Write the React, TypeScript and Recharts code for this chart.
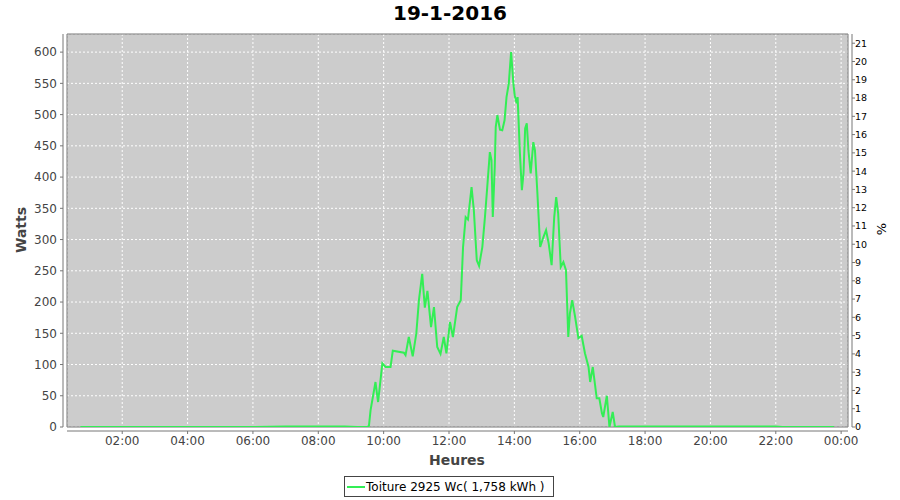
import {
  LineChart,
  Line,
  XAxis,
  YAxis,
  CartesianGrid,
  ReferenceArea,
} from 'recharts';

const HOURS = [
  0.72, 3.0, 6.0, 7.0, 8.0, 8.8, 9.2, 9.5, 9.55, 9.6, 9.75, 9.83, 9.96, 10.06,
  10.21, 10.28, 10.62, 10.67, 10.77, 10.89, 11.0, 11.08, 11.18, 11.26, 11.34,
  11.45, 11.54, 11.64, 11.74, 11.84, 11.92, 12.03, 12.12, 12.25, 12.36, 12.43,
  12.51, 12.58, 12.69, 12.76, 12.85, 12.92, 13.02, 13.1, 13.17, 13.25, 13.3,
  13.34, 13.4, 13.43, 13.48, 13.56, 13.63, 13.7, 13.76, 13.83, 13.9, 13.97,
  14.01, 14.07, 14.1, 14.17, 14.23, 14.28, 14.33, 14.38, 14.43, 14.5, 14.58,
  14.63, 14.7, 14.79, 14.89, 14.97, 15.05, 15.14, 15.22, 15.28, 15.34, 15.42,
  15.5, 15.58, 15.65, 15.7, 15.77, 15.86, 15.96, 16.06, 16.16, 16.27, 16.32,
  16.4, 16.47, 16.52, 16.6, 16.68, 16.72, 16.83, 16.91, 17.01, 17.08, 17.2,
  18.0, 20.0, 22.0, 22.2, 23.78,
];

const WATTS = [
  0, 0, 0, 1, 1, 1, 0, 0, 2, 27, 72, 40, 102, 96, 96, 122, 119, 115, 144, 113,
  150, 203, 245, 191, 218, 160, 192, 128, 117, 144, 118, 168, 144, 192, 203,
  288, 336, 332, 384, 347, 267, 258, 288, 336, 384, 440, 427, 336, 416, 480,
  499, 476, 475, 491, 528, 550, 600, 550, 531, 518, 528, 438, 379, 406, 478,
  486, 443, 406, 456, 443, 379, 288, 304, 315, 294, 259, 336, 368, 342, 256,
  264, 251, 144, 182, 203, 176, 142, 146, 118, 96, 72, 96, 67, 46, 46, 22, 16,
  50, 0, 24, 0, 1, 1, 1, 1, 0, 0,
];

const X_TICKS = [2, 4, 6, 8, 10, 12, 14, 16, 18, 20, 22, 24];
const W_TICKS = [0, 50, 100, 150, 200, 250, 300, 350, 400, 450, 500, 550, 600];
const PCT_TICKS = [
  0, 1, 2, 3, 4, 5, 6, 7, 8, 9, 10, 11, 12, 13, 14, 15, 16, 17, 18, 19, 20, 21,
];

const TITLE = '19-1-2016';
const SERIES_NAME = 'Toiture 2925 Wc( 1,758 kWh )';
const PEAK_WC = 2925;
const W_MAX = 629;
const X_MIN = 0.31;
const X_MAX = 24.21;

const FONT = '"DejaVu Sans", sans-serif';
const GREEN = '#33ee55';
const AXIS = '#777777';

const data = HOURS.map((h, i) => ({ h, w: WATTS[i] }));

const fmtHour = (v: number) => `${String(v % 24).padStart(2, '0')}:00`;

function Titles() {
  return (
    <g fontFamily={FONT}>
      <text x={450} y={20} textAnchor="middle" fontSize={20} fontWeight="bold" fill="#000">
        {TITLE}
      </text>
      <text
        x={26}
        y={230}
        transform="rotate(-90 26 230)"
        textAnchor="middle"
        fontSize={14}
        fontWeight="bold"
        fill="#444"
      >
        Watts
      </text>
      <text x={457} y={465} textAnchor="middle" fontSize={14} fontWeight="bold" fill="#444">
        Heures
      </text>
      <text
        x={886}
        y={229}
        transform="rotate(-90 886 229)"
        textAnchor="middle"
        fontSize={13}
        fill="#000"
      >
        %
      </text>
      <rect x={344.5} y={476.5} width={209} height={20} fill="#fff" stroke="#444" />
      <line x1={347} y1={487} x2={365} y2={487} stroke={GREEN} strokeWidth={2} />
      <text x={366} y={491} fontSize={12} fill="#000">
        {SERIES_NAME}
      </text>
    </g>
  );
}

export default function App() {
  return (
    <div style={{ position: 'absolute', left: 0, top: 0, background: '#fff' }}>
      <LineChart
        width={900}
        height={500}
        data={data}
        margin={{ top: 34, right: 0, bottom: 0, left: 0 }}
      >
        <CartesianGrid
          fill="#cccccc"
          stroke="#ffffff"
          strokeDasharray="2 2"
          vertical
          horizontal
          yAxisId="w"
        />
        <XAxis
          dataKey="h"
          type="number"
          domain={[X_MIN, X_MAX]}
          ticks={X_TICKS}
          tickFormatter={fmtHour}
          height={73}
          tickSize={3}
          tickMargin={6}
          axisLine={{ stroke: AXIS, transform: 'translate(0,4)' }}
          tickLine={{ stroke: AXIS, transform: 'translate(0,4)' }}
          tick={{ fill: '#444', fontSize: 12, fontFamily: FONT }}
          allowDataOverflow
        />
        <YAxis
          yAxisId="w"
          type="number"
          domain={[0, W_MAX]}
          ticks={W_TICKS}
          width={67}
          tickSize={3}
          tickMargin={7}
          axisLine={{ stroke: AXIS, transform: 'translate(-4,0)' }}
          tickLine={{ stroke: AXIS, transform: 'translate(-4,0)' }}
          tick={{ fill: '#444', fontSize: 12, fontFamily: FONT }}
          allowDataOverflow
        />
        <YAxis
          yAxisId="pct"
          orientation="right"
          type="number"
          domain={[0, (W_MAX / PEAK_WC) * 100]}
          ticks={PCT_TICKS}
          width={52}
          tickSize={3}
          tickMargin={4}
          axisLine={{ stroke: AXIS, transform: 'translate(4,0)' }}
          tickLine={{ stroke: AXIS, transform: 'translate(4,0)' }}
          tick={{ fill: '#000', fontSize: 9.5, fontFamily: FONT }}
          allowDataOverflow
        />
        <ReferenceArea
          yAxisId="w"
          x1={X_MIN}
          x2={X_MAX}
          y1={0}
          y2={W_MAX}
          fill="none"
          stroke={AXIS}
          strokeWidth={1}
        />
        <Line
          yAxisId="w"
          type="linear"
          dataKey="w"
          name={SERIES_NAME}
          stroke={GREEN}
          strokeWidth={2}
          dot={false}
          isAnimationActive={false}
        />
        <Titles />
      </LineChart>
    </div>
  );
}
